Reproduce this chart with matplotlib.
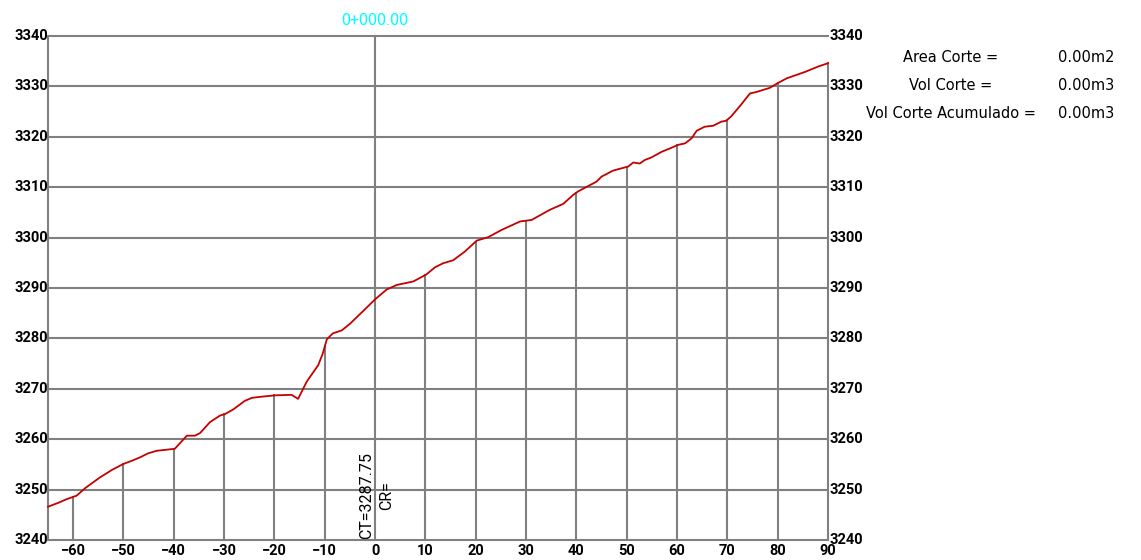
import numpy as np
import matplotlib
matplotlib.use("Agg")
import matplotlib.pyplot as plt

# perfil del terreno (distancia, cota)
dist = [-65, -62.9, -61.3, -59.3, -57.6, -54.7, -52.3, -50.0, -48.4, -46.7, -45.1, -43.4,
        -39.8, -37.4, -35.8, -34.8, -32.8, -30.8, -29.8, -28.2, -25.9, -24.5, -22.9, -19.9,
        -16.6, -15.3, -13.6, -11.3, -10.4, -9.6, -8.4, -6.6, -5.0, -2.4, 0, 2.3, 4.3, 7.6,
        10.2, 11.9, 13.5, 15.5, 17.8, 20.2, 22.5, 25.1, 28.8, 31.1, 34.7, 37.4, 39.4, 40.4,
        44.0, 45.0, 47.3, 50.3, 51.3, 52.6, 53.6, 54.9, 56.9, 58.6, 60.2, 61.6, 62.9, 63.9,
        65.5, 67.2, 68.8, 69.8, 70.8, 72.5, 74.5, 75.8, 78.4, 80.1, 81.8, 85.5, 88.2, 90]
cota = [3246.6, 3247.4, 3248.1, 3248.8, 3250.3, 3252.4, 3253.9, 3255.1, 3255.7, 3256.4,
        3257.2, 3257.7, 3258.1, 3260.7, 3260.7, 3261.2, 3263.4, 3264.7, 3265.0, 3265.9,
        3267.6, 3268.2, 3268.4, 3268.7, 3268.8, 3268.0, 3271.4, 3274.7, 3277.0, 3279.8,
        3281.0, 3281.6, 3282.9, 3285.4, 3287.75, 3289.7, 3290.6, 3291.3, 3292.7, 3294.1,
        3294.9, 3295.5, 3297.2, 3299.4, 3300.1, 3301.5, 3303.2, 3303.5, 3305.5, 3306.7,
        3308.5, 3309.2, 3311.1, 3312.1, 3313.3, 3314.1, 3314.9, 3314.7, 3315.4, 3315.9,
        3317.0, 3317.7, 3318.4, 3318.7, 3319.7, 3321.2, 3322.0, 3322.2, 3323.0, 3323.2,
        3324.1, 3326.1, 3328.6, 3328.9, 3329.7, 3330.7, 3331.6, 3332.9, 3334.0, 3334.6]

estaciones = list(range(-60, 91, 10))
cotas_grid = list(range(3240, 3341, 10))
progresiva = "0+000.00"
cota_terreno = 3287.75
etiquetas = ["Area Corte =", "Vol Corte =", "Vol Corte Acumulado ="]
valores = ["0.00m2", "0.00m3", "0.00m3"]

gris = "#808080"
num = dict(family="Roboto", fontweight="bold", fontsize=10.5)

fig = plt.figure(figsize=(11.41, 5.6), dpi=100)
ax = fig.add_axes([48 / 1141, 20 / 560, 780 / 1141, 504 / 560])
ax.set_xlim(-65, 90)
ax.set_ylim(3240, 3340)
ax.axis("off")

# lineas horizontales y cotas a ambos lados
for c in cotas_grid:
    ax.plot([-65, 90], [c, c], color=gris, lw=1.5, zorder=1, clip_on=False)
    ax.text(-64.9, c, str(c), ha="right", va="center", **num)
    ax.text(90.3, c, str(c), ha="left", va="center", **num)

# borde izquierdo y eje de la progresiva
ax.plot([-65, -65], [3240, 3340], color=gris, lw=1.5, zorder=1, clip_on=False)
ax.plot([0, 0], [3240, 3340], color=gris, lw=1.5, zorder=1, clip_on=False)

# verticales hasta el terreno
for e in estaciones:
    tope = np.interp(e, dist, cota)
    if e != 0:
        ax.plot([e, e], [3240, tope], color=gris, lw=1.5, zorder=1, clip_on=False)
    lbl = "\u2212" + str(-e) if e < 0 else str(e)
    ax.text(e, 3239.3, lbl, ha="center", va="top", **num)

ax.plot(dist, cota, color="#c40000", lw=1.3, zorder=3, clip_on=False)

ax.text(0, 3341.5, progresiva, color="#00ffff", ha="center", va="bottom",
        fontsize=11.5, family="Roboto")
ax.text(-1.6, 3248.8, f"CT={cota_terreno:.2f}", rotation=90, ha="center",
        va="center", fontsize=11.5, family="Roboto")
ax.text(2.2, 3248.8, "CR=", rotation=90, ha="center", va="center",
        fontsize=11.5, family="Roboto")

for i, (et, v) in enumerate(zip(etiquetas, valores)):
    yy = 1 - (57 + 28 * i) / 560
    fig.text(951 / 1141, yy, et, ha="center", va="center", fontsize=10.5,
             family="DejaVu Sans")
    fig.text(1058 / 1141, yy, v, ha="left", va="center", fontsize=10.5,
             family="DejaVu Sans")

fig.savefig("out.png", dpi=100)
